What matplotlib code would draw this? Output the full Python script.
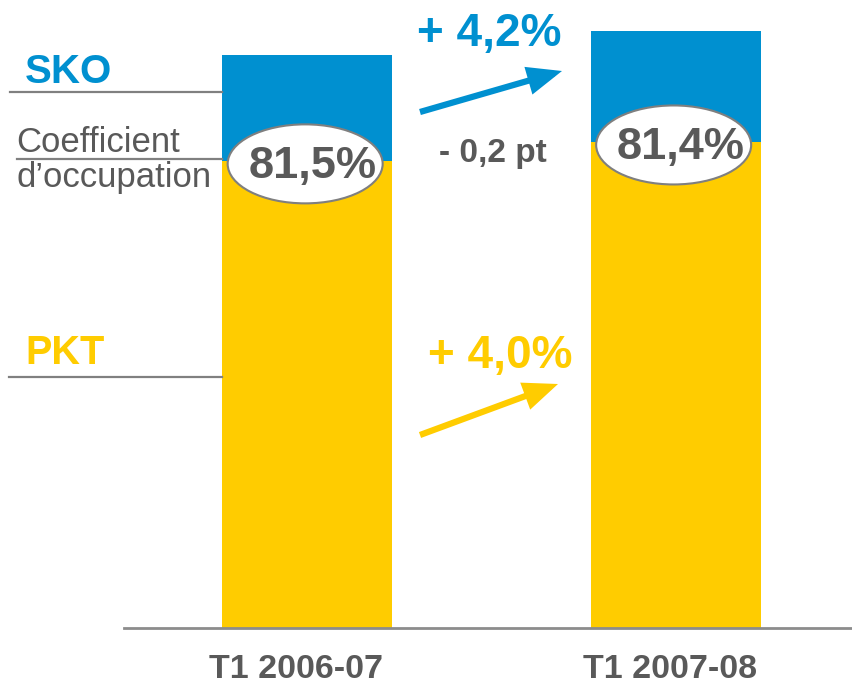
import matplotlib
matplotlib.use("Agg")
import matplotlib.pyplot as plt
from matplotlib.patches import Ellipse, FancyArrowPatch
from matplotlib.lines import Line2D

# ---- data ----
categories = ["T1 2006-07", "T1 2007-08"]
sko = [100.0, 104.2]          # seat-km offered (index)
pkt = [81.5, 84.8]            # passenger-km (index)
load_factor = [81.5, 81.4]    # %
sko_growth = "+ 4,2%"
pkt_growth = "+ 4,0%"
lf_change = "- 0,2 pt"
series_labels = ["SKO", "Coefficient\nd\u2019occupation", "PKT"]

BLUE = "#0090D0"
YELLOW = "#FFCC00"
GRAY = "#595959"
LINE = "#808080"
FONT = "Liberation Sans"

W, H = 852, 686
fig = plt.figure(figsize=(W / 100, H / 100), dpi=100)
fig.patch.set_facecolor("white")

def P(x, y):
    return (x / W, 1 - y / H)

# axes mapped so that bars land at pixel positions
ax = fig.add_axes([0, 0, 1, 1])
ax.set_xlim(-307 / 368.5, (W - 307) / 368.5)
ax.set_ylim(-(H - 628) / 5.73, 628 / 5.73)
ax.axis("off")

x = list(range(len(categories)))
width = 170 / 368.5
ax.bar(x, pkt, width=width, color=YELLOW, zorder=2)
ax.bar(x, [s - p for s, p in zip(sko, pkt)], bottom=pkt, width=width, color=BLUE, zorder=2)

# ellipses with load factor
for i in x:
    e = Ellipse((i - 0.005, pkt[i] - 0.5), width=155 / 368.5, height=79 / 5.73,
                facecolor="white", edgecolor="#7f7f7f", lw=1.5, zorder=3)
    ax.add_patch(e)
    ax.text(i + 0.015, pkt[i] - 3.0, f"{load_factor[i]:.1f}%".replace(".", ","),
            ha="center", va="baseline", fontsize=32.5, fontweight="bold",
            color=GRAY, family=FONT, zorder=4)

# baseline axis
fig.add_artist(Line2D([124 / W, 1], [1 - 628 / H] * 2, color="#8c8c8c", lw=2))

# left guide lines
for (x0, y0) in [(10, 92), (17, 159), (9, 377)]:
    fig.add_artist(Line2D([x0 / W, 222 / W], [1 - y0 / H] * 2, color=LINE, lw=1.6, zorder=1))

# left labels
fig.text(*P(25, 83), series_labels[0], ha="left", va="baseline", fontsize=29,
         fontweight="bold", color=BLUE, family=FONT)
coef1, coef2 = series_labels[1].split("\n")
fig.text(*P(16, 152), coef1, ha="left", va="baseline", fontsize=25, color=GRAY, family=FONT)
fig.text(*P(16, 187), coef2, ha="left", va="baseline", fontsize=25, color=GRAY, family=FONT)
fig.text(*P(25, 364), series_labels[2], ha="left", va="baseline", fontsize=28.5,
         fontweight="bold", color=YELLOW, family=FONT)

# growth annotations
fig.text(*P(489, 46), sko_growth, ha="center", va="baseline", fontsize=33,
         fontweight="bold", color=BLUE, family=FONT)
fig.text(*P(493, 162), lf_change, ha="center", va="baseline", fontsize=24,
         fontweight="bold", color=GRAY, family=FONT)
fig.text(*P(500, 368), pkt_growth, ha="center", va="baseline", fontsize=33,
         fontweight="bold", color=YELLOW, family=FONT)

def arrow(p0, p1, color):
    a = FancyArrowPatch(P(*p0), P(*p1), transform=fig.transFigure,
                        arrowstyle="-|>,head_length=0.85,head_width=0.35",
                        mutation_scale=20, lw=4.5, color=color,
                        shrinkA=0, shrinkB=0, joinstyle="miter", capstyle="butt")
    fig.add_artist(a)

arrow((420, 112), (562, 71), BLUE)
arrow((420, 435), (558, 384), YELLOW)

# category labels
for cx, lab in zip([296, 670], categories):
    fig.text(*P(cx, 678), lab, ha="center", va="baseline", fontsize=24.5,
             fontweight="bold", color=GRAY, family=FONT)

fig.savefig("out.png", dpi=100, facecolor="white")
